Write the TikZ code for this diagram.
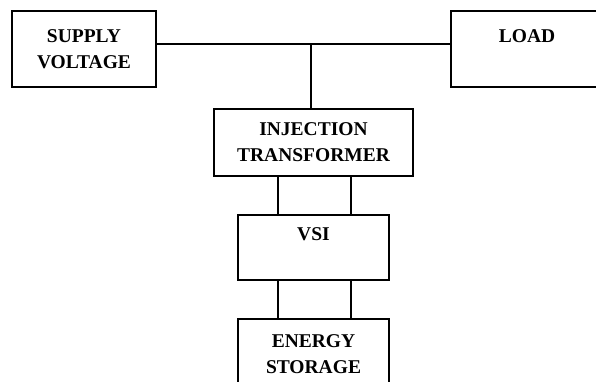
\documentclass[tikz,border=0pt]{standalone}
\usepackage{fontspec}
\setmainfont{Liberation Serif}
\usetikzlibrary{positioning}

\begin{document}
\begin{tikzpicture}[
  x=1pt, y=-1pt,
  every node/.style={font=\fontsize{19.5}{26}\selectfont\bfseries},
  blk/.style={rectangle, draw=black, line width=1.6pt, align=center,
              inner sep=0pt, outer sep=0pt},
  wire/.style={line width=1.3pt, black},
]
\useasboundingbox (0,0) rectangle (596,381);

% top row: source and load
\node[blk, minimum width=144pt, minimum height=76pt] (supply) at (84,49) {SUPPLY\\VOLTAGE};
\node[blk, minimum width=152pt, minimum height=76pt] (load) at (527,49) {LOAD\\~};

% series chain down the middle
\node[blk, minimum width=199pt, minimum height=67pt] (inj) at (313.5,142.5) {INJECTION\\TRANSFORMER};
\node[blk, minimum width=151pt, minimum height=65pt] (vsi) at (313.5,247.5) {VSI\\~};
\node[blk, minimum width=151pt, minimum height=71pt] (store) at (313.5,354.5) {ENERGY\\STORAGE};

% tap points
\coordinate (bus) at (311,44);
\coordinate (lft) at (278,0);
\coordinate (rgt) at (351,0);

% line between source and load
\draw[wire] (supply.east |- bus) -- (load.west |- bus);
\draw[wire] (bus) -- (bus |- inj.north);

% double links
\draw[wire] (inj.south -| lft) -- (vsi.north -| lft);
\draw[wire] (inj.south -| rgt) -- (vsi.north -| rgt);
\draw[wire] (vsi.south -| lft) -- (store.north -| lft);
\draw[wire] (vsi.south -| rgt) -- (store.north -| rgt);

\end{tikzpicture}
\end{document}
